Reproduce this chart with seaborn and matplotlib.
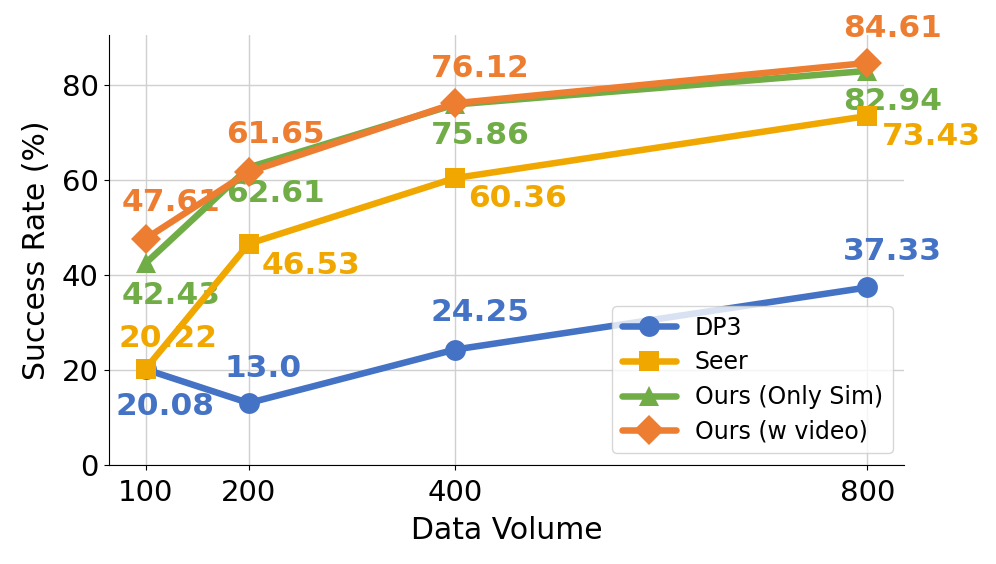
import matplotlib
matplotlib.use("Agg")
import matplotlib.pyplot as plt
import seaborn as sns
import pandas as pd

# data
data_volume = [100, 200, 400, 800]
dp3 = [20.08, 13.0, 24.25, 37.33]
seer = [20.22, 46.53, 60.36, 73.43]
ours_sim = [42.43, 62.61, 75.86, 82.94]
ours_video = [47.61, 61.65, 76.12, 84.61]
series_names = ["DP3", "Seer", "Ours (Only Sim)", "Ours (w video)"]

colors = {"DP3": "#4472C4", "Seer": "#F0A800",
          "Ours (Only Sim)": "#70AD47", "Ours (w video)": "#ED7D31"}
markers = {"DP3": "o", "Seer": "s", "Ours (Only Sim)": "^", "Ours (w video)": "D"}
# label offsets in points (dx, dy) per series per point
offsets = {
    "DP3": [(14, -27), (10, 25), (18, 27), (18, 26)],
    "Seer": [(16, 22), (45, -16), (45, -15), (46, -15)],
    "Ours (Only Sim)": [(18, -23), (19, -19), (18, -22), (18, -22)],
    "Ours (w video)": [(18, 26), (19, 27), (18, 25), (18, 25)],
}

values = [dp3, seer, ours_sim, ours_video]
df = pd.DataFrame({
    "Data Volume": data_volume * 4,
    "Success Rate (%)": sum(values, []),
    "Method": [n for n in series_names for _ in data_volume],
})

sns.set_style("ticks", rc={"text.color": "black", "axes.labelcolor": "black",
                           "xtick.color": "black", "ytick.color": "black",
                           "axes.edgecolor": "black"})
plt.rcParams["font.family"] = ["DejaVu Sans"]

fig, ax = plt.subplots(figsize=(9.96, 5.64), dpi=100)

for name, vals in zip(series_names, values):
    for x, y, (dx, dy) in zip(data_volume, vals, offsets[name]):
        ax.annotate(f"{y}", (x, y), xytext=(dx, dy), textcoords="offset points",
                    ha="center", va="center", fontsize=22.5, fontweight="bold",
                    color=colors[name], zorder=1)

sns.lineplot(data=df, x="Data Volume", y="Success Rate (%)", hue="Method",
             style="Method", palette=colors, markers=markers, dashes=False,
             linewidth=4.7, markersize=15, markeredgewidth=0, ax=ax, zorder=3)

ax.set_ylim(0, 90.5)
ax.set_xlim(64, 836)
ax.set_xticks(data_volume)
ax.set_yticks([0, 20, 40, 60, 80])
ax.tick_params(labelsize=21)
ax.tick_params(axis="x", pad=7)
ax.set_xlabel("Data Volume", fontsize=21.5, labelpad=6)
ax.set_ylabel("Success Rate (%)", fontsize=21.5, labelpad=8)
ax.grid(True, color="#d0d0d0", linewidth=1)
ax.set_axisbelow(True)
sns.despine(ax=ax)

leg = ax.legend(loc="lower right", fontsize=17, handlelength=2.3,
                framealpha=0.8, borderaxespad=0.5, labelspacing=0.45)
for h in leg.legend_handles:
    h.set_linewidth(4.7)
    h.set_markersize(15)

plt.subplots_adjust(left=0.109, right=0.908, top=0.938, bottom=0.176)
fig.savefig("out.png", dpi=100)
